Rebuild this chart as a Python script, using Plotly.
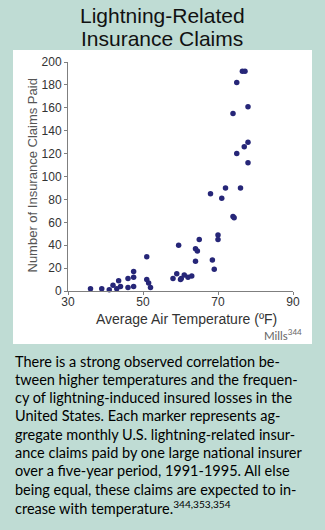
import plotly.graph_objects as go

# ---- data ----
temp_f = [36, 39, 41, 42, 43, 43.5, 44, 46, 46, 47.5, 47.5, 47.5, 51, 51, 51.5, 52,
          58, 59, 59.5, 60, 60.2, 61, 62, 63, 64, 64, 64.5, 65,
          68, 68.5, 69, 70, 70, 71, 72, 74, 74.3, 76,
          74, 75, 75, 76.5, 77.2, 77, 78, 78, 78]
claims = [2, 2, 1, 5, 2, 9, 4, 11, 3, 17, 12, 4, 30, 10, 7, 3,
          11, 15, 40, 10, 11, 14, 12, 13, 26, 37, 35, 45,
          85, 27, 19, 49, 45, 81, 90, 65, 64, 90,
          155, 182, 120, 192, 192, 126, 130, 112, 161]

x_ticks = [30, 50, 70, 90]
y_ticks = [0, 20, 40, 60, 80, 100, 120, 140, 160, 180, 200]

title_lines = ["Lightning-Related", "Insurance Claims"]
x_title = "Average Air Temperature (ºF)"
y_title = "Number of Insurance Claims Paid"
source = "Mills<sup>344</sup>"
caption_lines = [
    "There is a strong observed correlation be-",
    "tween higher temperatures and the frequen-",
    "cy of lightning-induced insured losses in the",
    "United States. Each marker represents ag-",
    "gregate monthly U.S. lightning-related insur-",
    "ance claims paid by one large national insurer",
    "over a five-year period, 1991-1995. All else",
    "being equal, these claims are expected to in-",
    "crease with temperature.<sup>344,353,354</sup>",
]

# ---- layout geometry ----
W, H = 325, 530
L, R, T, B = 68, 32, 62, 239
PW, PH = W - L - R, H - T - B


def px2x(px):
    return (px - L) / PW


def py2y(py):
    return (H - B - py) / PH


TEAL = "#bfdcd4"

fig = go.Figure()
fig.add_trace(go.Scatter(
    x=temp_f, y=claims, mode="markers",
    marker=dict(size=5.5, color="#262678"),
    hoverinfo="x+y", showlegend=False, cliponaxis=False,
))

axis_common = dict(
    showline=True, linecolor="#7f7f7f", linewidth=1,
    ticks="outside", ticklen=3, tickcolor="#7f7f7f",
    showgrid=False, zeroline=False,
    tickfont=dict(family="Arial, Liberation Sans, sans-serif", size=12, color="#333333"),
    fixedrange=True,
)

fig.update_layout(
    width=W, height=H,
    margin=dict(l=L, r=R, t=T, b=B, pad=0),
    paper_bgcolor=TEAL, plot_bgcolor="white",
    xaxis=dict(range=[30, 90], tickvals=x_ticks, ticklabelstandoff=-3, **axis_common),
    yaxis=dict(range=[0, 200], tickvals=y_ticks, **axis_common),
    shapes=[dict(type="rect", xref="paper", yref="paper",
                 x0=px2x(13), x1=px2x(312), y0=py2y(344), y1=py2y(50),
                 fillcolor="white", line=dict(width=0), layer="below")],
)

ann = []
title_font = dict(family="Arial, Liberation Sans, sans-serif", size=21, color="#111111")
for i, line in enumerate(title_lines):
    ann.append(dict(text=line, xref="paper", yref="paper", x=px2x(162), y=py2y(16 + 22.5 * i),
                    xanchor="center", yanchor="middle", showarrow=False, font=title_font))

ann.append(dict(text=x_title, xref="paper", yref="paper", x=px2x(186), y=py2y(319),
                xanchor="center", yanchor="middle", showarrow=False,
                font=dict(family="Arial, Liberation Sans, sans-serif", size=14, color="#333333")))
ann.append(dict(text=y_title, xref="paper", yref="paper", x=px2x(32), y=py2y(175.5),
                xanchor="center", yanchor="middle", showarrow=False, textangle=-90,
                font=dict(family="Arial, Liberation Sans, sans-serif", size=13, color="#555555")))
ann.append(dict(text=source, xref="paper", yref="paper", x=px2x(304), y=py2y(334),
                xanchor="right", yanchor="middle", showarrow=False,
                font=dict(family="Gill Sans, Gill Sans MT, Lato, sans-serif", size=11.5, color="#666666")))

cap_font = dict(family="Gill Sans, Gill Sans MT, Lato, sans-serif", size=14.5, color="#000000")
for i, line in enumerate(caption_lines):
    ann.append(dict(text=line, xref="paper", yref="paper", x=px2x(13), y=py2y(361 + 18.3 * i),
                    xanchor="left", yanchor="middle", showarrow=False, font=cap_font))

fig.update_layout(annotations=ann)
fig.write_html("out.html")
